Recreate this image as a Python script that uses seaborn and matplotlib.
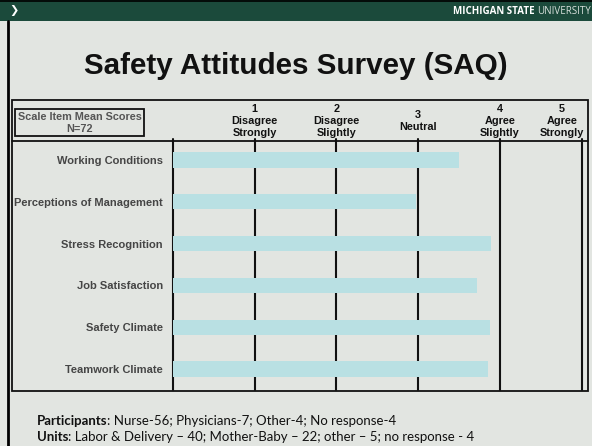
import numpy as np
import pandas as pd
import seaborn as sns
import matplotlib.pyplot as plt
from matplotlib.patches import Rectangle
from matplotlib.transforms import blended_transform_factory

# Scale item mean scores (1 = disagree strongly ... 5 = agree strongly)
items = ["Working Conditions", "Perceptions of Management", "Stress Recognition",
         "Job Satisfaction", "Safety Climate", "Teamwork Climate"]
mean_scores = [3.50, 2.97, 3.89, 3.72, 3.88, 3.86]

scale_values = [1, 2, 3, 4, 5]
scale_labels = ["1\nDisagree\nStrongly", "2\nDisagree\nSlightly", "3\nNeutral",
                "4\nAgree\nSlightly", "5\nAgree\nStrongly"]

title = "Safety Attitudes Survey (SAQ)"
header_label = "Scale Item Mean Scores\nN=72"
footer_lines = [("Participants", ": Nurse-56; Physicians-7; Other-4; No response-4"),
                ("Units", ": Labor & Delivery \u2013 40; Mother-Baby \u2013 22; other \u2013 5; no response - 4")]

df = pd.DataFrame({"item": items, "score": mean_scores})

sns.set_style("white")
plt.rcParams["font.family"] = ["Liberation Sans", "DejaVu Sans"]

W, H = 592, 446
fig = plt.figure(figsize=(W / 100, H / 100), dpi=100)
fig.patch.set_facecolor("#e2e5e1")

# slide layer in pixel coordinates
bg = fig.add_axes([0, 0, 1, 1], zorder=0)
bg.set_xlim(0, W)
bg.set_ylim(H, 0)
bg.axis("off")

# top banner
bg.add_patch(Rectangle((0, 0), W, 21, color="#1b4a3b", lw=0))
bg.plot([0, W], [0.6, 0.6], color="black", lw=1.2)
bg.text(14, 11, "\u276f", color="white", fontsize=8, va="center", ha="center",
        family=["DejaVu Sans"])
uni = bg.text(591, 12, "UNIVERSITY", color="#d8e0dc", fontsize=7,
              ha="right", va="center", family=["Open Sans", "DejaVu Sans"])
bg.annotate("MICHIGAN STATE ", xy=(0, 0.5), xycoords=uni, color="white", fontsize=7,
            fontweight="bold", ha="right", va="center", family=["Open Sans", "DejaVu Sans"])

# left slide border
bg.plot([7.5, 7.5], [21, H], color="black", lw=2)

# title
bg.text(296, 66, title, fontsize=21.3, fontweight="bold", ha="center", va="center",
        color="#111111")

# table frame + header separator
bg.add_patch(Rectangle((11.5, 100), 576, 291, fill=False, ec="#111111", lw=1.3))
bg.plot([11.5, 587.5], [141, 141], color="#111111", lw=1.3)

# header box
bg.add_patch(Rectangle((15, 109), 129, 27, fill=False, ec="#111111", lw=1.3))
bg.text(79.5, 122.5, header_label, fontsize=7.8, fontweight="bold", ha="center",
        va="center", color="#555555", linespacing=1.25)

# footer
for (bold_part, rest), y in zip(footer_lines, [421, 437]):
    t = bg.text(37, y, bold_part, fontsize=9.5, fontweight="bold", va="center",
                family=["Lato", "DejaVu Sans"], color="#111111")
    bg.annotate(rest, xy=(1, 0), xycoords=t, xytext=(-0.6, 0), textcoords="offset points",
                va="bottom", ha="left", fontsize=9.5,
                family=["Lato", "DejaVu Sans"], color="#111111")

# main bar chart
ax = fig.add_axes([172.7 / W, 1 - 390 / H, 409 / W, 251 / H], zorder=1)
ax.patch.set_alpha(0)
for v in [0] + scale_values:
    ax.axvline(v, color="#111111", lw=1.5, zorder=1, clip_on=False)
sns.barplot(data=df, x="score", y="item", orient="h", color="#b9e0e3",
            saturation=1, width=0.37, linewidth=0, ax=ax, zorder=2)
ax.set_xlim(0, 5)
ax.set_ylim(5.5, -0.5)
ax.set_xlabel("")
ax.set_ylabel("")
ax.set_xticks([])
ax.tick_params(axis="y", length=0, pad=7)
for lab in ax.get_yticklabels():
    lab.set_fontsize(8)
    lab.set_fontweight("bold")
    lab.set_color("#454545")
sns.despine(ax=ax, left=True, bottom=True)

# scale labels in the header row
trans = blended_transform_factory(ax.transData, bg.transData)
for v, lab in zip(scale_values, scale_labels):
    x = v if v < 5 else v - 0.24
    ax.text(x, 121, lab, transform=trans, ha="center", va="center", fontsize=7.8,
            fontweight="bold", color="#111111", linespacing=1.25)

fig.savefig("out.png", dpi=100, facecolor=fig.get_facecolor())
